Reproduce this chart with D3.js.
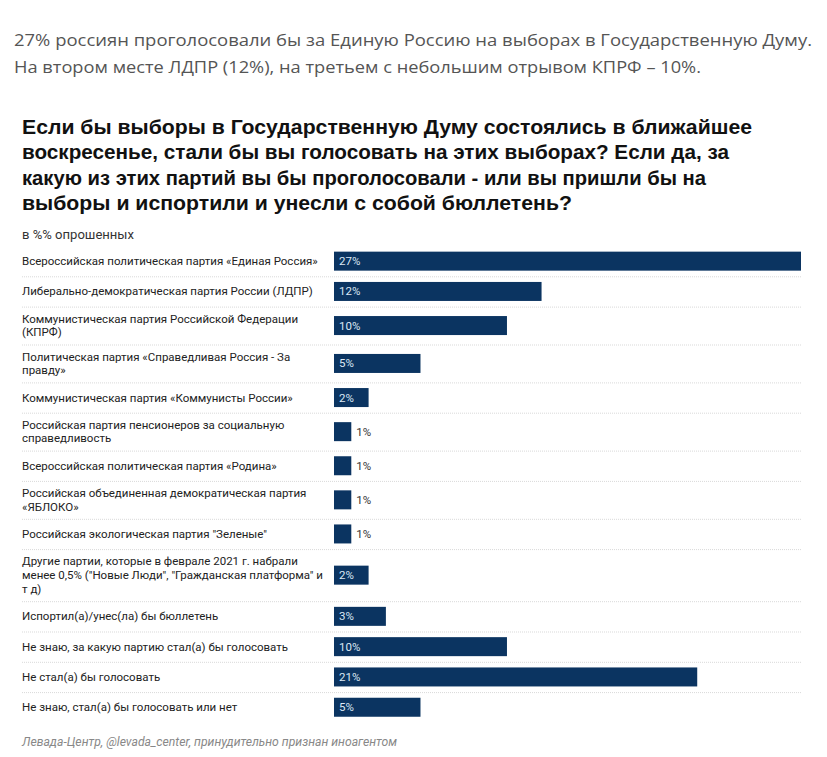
<!DOCTYPE html>
<html><head><meta charset="utf-8">
<script src="https://cdn.jsdelivr.net/npm/d3@7"></script>
<style>html,body{margin:0;padding:0;background:#fff;}</style>
</head><body>
<svg id="chart" width="827" height="757"></svg>
<script>
const headerLines = [
  "27% россиян проголосовали бы за Единую Россию на выборах в Государственную Думу.",
  "На втором месте ЛДПР (12%), на третьем с небольшим отрывом КПРФ – 10%."
];
const titleLines = [
  "Если бы выборы в Государственную Думу состоялись в ближайшее",
  "воскресенье, стали бы вы голосовать на этих выборах? Если да, за",
  "какую из этих партий вы бы проголосовали - или вы пришли бы на",
  "выборы и испортили и унесли с собой бюллетень?"
];
const subtitle = "в %% опрошенных";
const source = "Левада-Центр, @levada_center, принудительно признан иноагентом";

const categories = [
  "Всероссийская политическая партия «Единая Россия»",
  "Либерально-демократическая партия России (ЛДПР)",
  "Коммунистическая партия Российской Федерации\n(КПРФ)",
  "Политическая партия «Справедливая Россия - За\nправду»",
  "Коммунистическая партия «Коммунисты России»",
  "Российская партия пенсионеров за социальную\nсправедливость",
  "Всероссийская политическая партия «Родина»",
  "Российская объединенная демократическая партия\n«ЯБЛОКО»",
  "Российская экологическая партия \"Зеленые\"",
  "Другие партии, которые в феврале 2021 г. набрали\nменее 0,5% (\"Новые Люди\", \"Гражданская платформа\" и\nт д)",
  "Испортил(а)/унес(ла) бы бюллетень",
  "Не знаю, за какую партию стал(а) бы голосовать",
  "Не стал(а) бы голосовать",
  "Не знаю, стал(а) бы голосовать или нет"
];
const values = [27, 12, 10, 5, 2, 1, 1, 1, 1, 2, 3, 10, 21, 5];

const svg = d3.select("#chart");
const barColor = "#0b3461";

// header
svg.append("g").selectAll("text").data(headerLines).join("text")
  .attr("x", 14).attr("y", (d,i) => 46 + i*26.5)
  .attr("font-family", "'Open Sans', sans-serif").attr("font-size", 17)
  .attr("fill", "#555")
  .attr("textLength", (d,i) => i === 0 ? 798 : 687).attr("lengthAdjust", "spacingAndGlyphs")
  .text(d => d);

// title
svg.append("g").selectAll("text").data(titleLines).join("text")
  .attr("x", 22).attr("y", (d,i) => 134 + i*25.3)
  .attr("font-family", "'Liberation Sans', Arial, sans-serif").attr("font-size", 19.5)
  .attr("font-weight", "bold").attr("fill", "#111")
  .attr("textLength", (d,i) => [730, 707, 684, 550][i]).attr("lengthAdjust", "spacingAndGlyphs")
  .text(d => d);

svg.append("text").attr("x", 22).attr("y", 239)
  .attr("font-family", "Roboto, sans-serif").attr("font-size", 12).attr("fill", "#333")
  .attr("textLength", 112).attr("lengthAdjust", "spacingAndGlyphs")
  .text(subtitle);

// rows layout
const textLineH = 13.7, rowLineH = 14.2, rowPad = 9.5, singleRow = 30.3, barH = 19;
const lines = categories.map(c => c.split("\n"));
const rowH = lines.map(l => Math.max(singleRow, l.length * rowLineH + rowPad));
const rowTop = [0, ...d3.cumsum(rowH)].map(v => v + 246);
const y = d3.scaleOrdinal().domain(d3.range(categories.length)).range(rowTop);
const x = d3.scaleLinear().domain([0, 27]).range([334, 801]);

const rows = svg.append("g").selectAll("g").data(categories.map((c,i) => ({c, v: values[i], i, lines: lines[i], h: rowH[i]})))
  .join("g").attr("transform", d => `translate(0,${y(d.i)})`);

// separators
rows.filter(d => d.i < categories.length - 1).append("line")
  .attr("x1", 22).attr("x2", 801).attr("y1", d => d.h + 0.5).attr("y2", d => d.h + 0.5)
  .attr("stroke", "#d9d9d9").attr("stroke-width", 1).attr("stroke-dasharray", "1,1");

// labels
rows.each(function(d) {
  const g = d3.select(this);
  const n = d.lines.length;
  const cy = d.h / 2;
  g.selectAll("text.lbl").data(d.lines).join("text").attr("class", "lbl")
    .attr("x", 22).attr("y", (t,j) => cy + (j - (n-1)/2) * textLineH + 4)
    .attr("font-family", "Roboto, sans-serif").attr("font-size", 11.5).attr("fill", "#222")
    .text(t => t);
});

// bars
rows.append("rect")
  .attr("x", x(0)).attr("y", d => d.h/2 - barH/2)
  .attr("width", d => x(d.v) - x(0)).attr("height", barH)
  .attr("fill", barColor);

// value labels
rows.append("text")
  .attr("x", d => d.v >= 2 ? x(0) + 5 : x(d.v) + 5)
  .attr("y", d => d.h/2 + 4)
  .attr("font-family", "Roboto, sans-serif").attr("font-size", 11.5)
  .attr("fill", d => d.v >= 2 ? "#dce8f5" : "#333")
  .text(d => d.v + "%");

// source
svg.append("text").attr("x", 22).attr("y", 746)
  .attr("font-family", "Roboto, sans-serif").attr("font-size", 12)
  .attr("font-style", "italic").attr("fill", "#888")
  .attr("textLength", 375).attr("lengthAdjust", "spacingAndGlyphs")
  .text(source);
</script>
</body></html>
